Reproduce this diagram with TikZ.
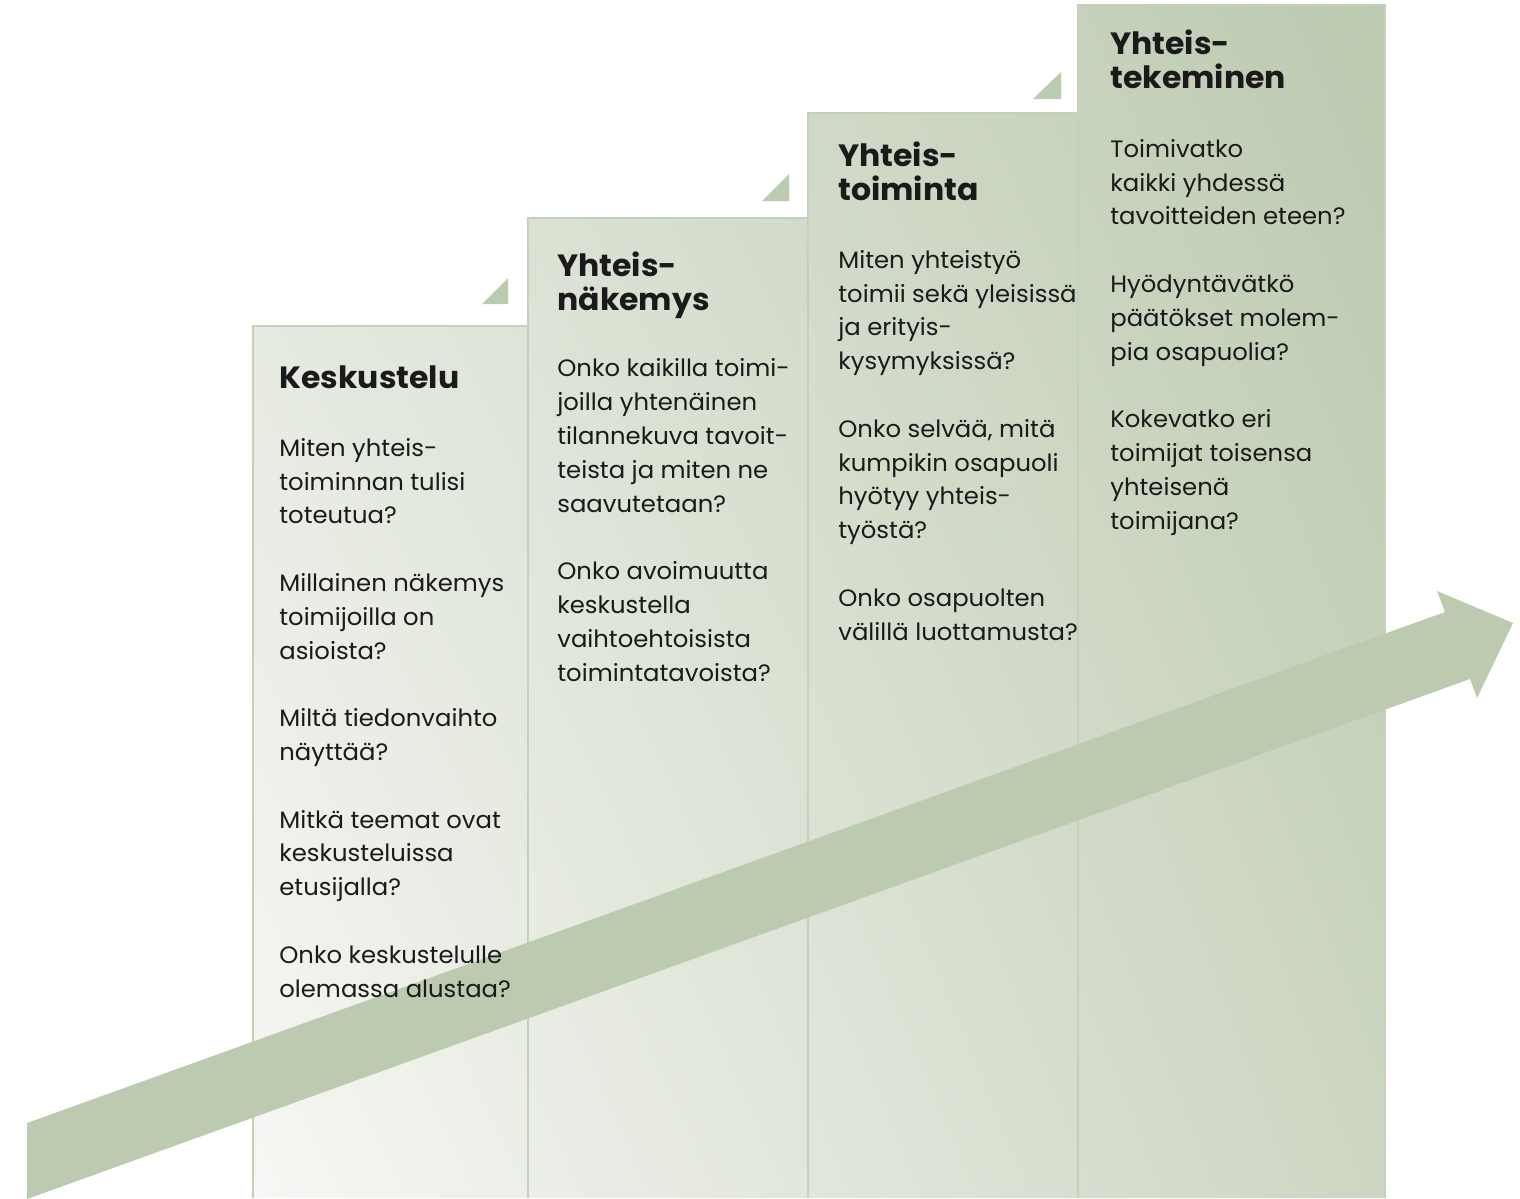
\documentclass[tikz,border=0pt]{standalone}
\usepackage{fontspec}
\setmainfont{Poppins}[FakeStretch=1.025]
\usepackage{tikz}
\usetikzlibrary{positioning}
\usetikzlibrary{shadings}
\definecolor{stepline}{HTML}{C4D0B9}
\definecolor{arrowgreen}{HTML}{BCCAB0}
\definecolor{shadeLL}{HTML}{F7F7F5}
\definecolor{shadeUL}{HTML}{E0E6DA}
\definecolor{shadeUR}{HTML}{BCCAB0}
\definecolor{shadeLR}{HTML}{CCD6C2}
\definecolor{txt}{HTML}{1A1A1A}
\tikzset{
  % base anchor of a multi-line node = baseline of its last line
  stephead/.style={anchor=base west, inner sep=0pt, align=left, text=txt,
    font=\fontsize{17.5}{19.1}\selectfont\bfseries},
  stepbody/.style={anchor=base west, inner sep=0pt, align=left, text=txt,
    font=\fontsize{13.5}{19.23}\selectfont},
  stepedge/.style={draw=stepline, line width=1.3pt}
}

\begin{document}
\begin{tikzpicture}[x=0.02cm, y=-0.02cm]

\useasboundingbox (0,0) rectangle (1520,1198);

% Steps (one shaded outline)
\shade[lower left=shadeLL, upper left=shadeUL, upper right=shadeUR, lower right=shadeLR]
  (253,1198) -- (253,326) -- (528,326) -- (528,218) -- (808,218) -- (808,113)
  -- (1078,113) -- (1078,5) -- (1385,5) -- (1385,1198) -- cycle;

% Step borders
\draw[stepedge] (253,1198) -- (253,326) -- (528,326) -- (528,1198);
\draw[stepedge] (528,326) -- (528,218) -- (808,218) -- (808,1198);
\draw[stepedge] (808,218) -- (808,113) -- (1078,113) -- (1078,1198);
\draw[stepedge] (1078,113) -- (1078,5) -- (1385,5) -- (1385,1198);

% Corner triangles
\fill[arrowgreen] (482,304) -- (508,304) -- (508,278) -- cycle;
\fill[arrowgreen] (762,201) -- (789,201) -- (789,174) -- cycle;
\fill[arrowgreen] (1033,99) -- (1061,99) -- (1061,72) -- cycle;

% Big arrow
\fill[arrowgreen] (27,1199) -- (27,1123) -- (1445,612) -- (1437,591)
  -- (1513,623) -- (1477,698) -- (1470,679) -- cycle;

% Step 1
\node[stephead] (keskustelu) at (279,388) {Keskustelu};
\node[stepbody] (keskustelu-q) at (279,997) {Miten yhteis-\\toiminnan tulisi\\toteutua?\\[0.676cm]
  Millainen näkemys\\toimijoilla on\\asioista?\\[0.676cm]
  Miltä tiedonvaihto\\näyttää?\\[0.676cm]
  Mitkä teemat ovat\\keskusteluissa\\etusijalla?\\[0.676cm]
  Onko keskustelulle\\olemassa alustaa?};

% Step 2
\node[stephead] (nakemys) at (557,310) {Yhteis-\\näkemys};
\node[stepbody] (nakemys-q) at (557,681) {Onko kaikilla toimi-\\joilla yhtenäinen\\tilannekuva tavoit-\\teista ja miten ne\\saavutetaan?\\[0.676cm]
  Onko avoimuutta\\keskustella\\vaihtoehtoisista\\toimintatavoista?};

% Step 3
\node[stephead] (toiminta) at (838,200) {Yhteis-\\toiminta};
\node[stepbody] (toiminta-q) at (838,640) {Miten yhteistyö\\toimii sekä yleisissä\\ja erityis-\\kysymyksissä?\\[0.676cm]
  Onko selvää, mitä\\kumpikin osapuoli\\hyötyy yhteis-\\työstä?\\[0.676cm]
  Onko osapuolten\\välillä luottamusta?};

% Step 4
\node[stephead] (tekeminen) at (1110,88) {Yhteis-\\tekeminen};
\node[stepbody] (tekeminen-q) at (1110,529) {Toimivatko\\kaikki yhdessä\\tavoitteiden eteen?\\[0.676cm]
  Hyödyntävätkö\\päätökset molem-\\pia osapuolia?\\[0.676cm]
  Kokevatko eri\\toimijat toisensa\\yhteisenä\\toimijana?};

\end{tikzpicture}
\end{document}
